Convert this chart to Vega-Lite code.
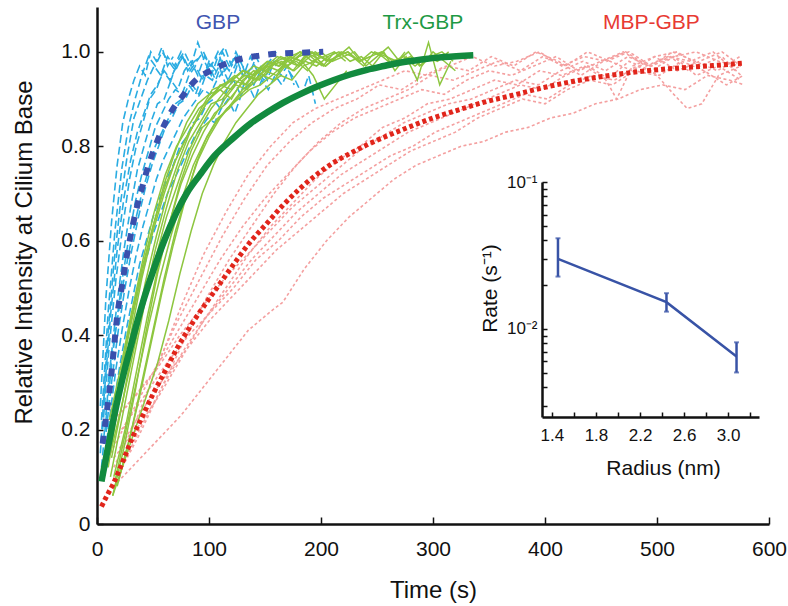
{
"$schema":"https://vega.github.io/schema/vega-lite/v6.json",
"width":672,"height":517,
"autosize":{"type":"none"},
"padding":{"left":97,"top":7,"right":19,"bottom":82},
"config":{"view":{"stroke":null},"font":"Liberation Sans",
 "axis":{"grid":false,"domainColor":"#111","domainWidth":2.5,"tickColor":"#111","tickWidth":1.5,"labelColor":"#111","titleColor":"#111","labelFont":"Liberation Sans","titleFont":"Liberation Sans","titleFontWeight":"normal","labelOverlap":false,"labelFlush":false}},
"datasets":{
"gbp":[
{"id":"g1","t":4,"v":0.22},{"id":"g1","t":10,"v":0.45},{"id":"g1","t":16,"v":0.62},{"id":"g1","t":22,"v":0.75},{"id":"g1","t":28,"v":0.84},{"id":"g1","t":34,"v":0.9},{"id":"g1","t":40,"v":0.95},{"id":"g1","t":46,"v":0.99},{"id":"g1","t":52,"v":0.97},{"id":"g1","t":58,"v":1.0},{"id":"g1","t":64,"v":0.98},{"id":"g1","t":70,"v":0.96},{"id":"g1","t":76,"v":0.99},{"id":"g1","t":82,"v":0.97},
{"id":"g2","t":3,"v":0.15},{"id":"g2","t":9,"v":0.38},{"id":"g2","t":15,"v":0.55},{"id":"g2","t":21,"v":0.68},{"id":"g2","t":27,"v":0.78},{"id":"g2","t":33,"v":0.86},{"id":"g2","t":39,"v":0.9},{"id":"g2","t":45,"v":0.94},{"id":"g2","t":51,"v":0.97},{"id":"g2","t":57,"v":0.95},{"id":"g2","t":63,"v":0.99},{"id":"g2","t":69,"v":0.97},{"id":"g2","t":75,"v":1.0},{"id":"g2","t":81,"v":0.96},{"id":"g2","t":87,"v":0.98},{"id":"g2","t":93,"v":0.99},
{"id":"g3","t":5,"v":0.2},{"id":"g3","t":11,"v":0.38},{"id":"g3","t":17,"v":0.52},{"id":"g3","t":23,"v":0.63},{"id":"g3","t":29,"v":0.73},{"id":"g3","t":35,"v":0.8},{"id":"g3","t":41,"v":0.85},{"id":"g3","t":47,"v":0.9},{"id":"g3","t":53,"v":0.92},{"id":"g3","t":59,"v":0.96},{"id":"g3","t":65,"v":0.94},{"id":"g3","t":71,"v":0.97},{"id":"g3","t":77,"v":0.99},{"id":"g3","t":83,"v":0.96},{"id":"g3","t":89,"v":0.98},{"id":"g3","t":95,"v":1.0},{"id":"g3","t":101,"v":0.97},{"id":"g3","t":107,"v":0.99},
{"id":"g4","t":6,"v":0.18},{"id":"g4","t":12,"v":0.34},{"id":"g4","t":18,"v":0.47},{"id":"g4","t":24,"v":0.58},{"id":"g4","t":30,"v":0.67},{"id":"g4","t":36,"v":0.75},{"id":"g4","t":42,"v":0.8},{"id":"g4","t":48,"v":0.85},{"id":"g4","t":54,"v":0.89},{"id":"g4","t":60,"v":0.9},{"id":"g4","t":66,"v":0.94},{"id":"g4","t":72,"v":0.92},{"id":"g4","t":78,"v":0.96},{"id":"g4","t":84,"v":0.98},{"id":"g4","t":90,"v":0.95},{"id":"g4","t":96,"v":0.99},{"id":"g4","t":102,"v":0.97},{"id":"g4","t":108,"v":1.0},{"id":"g4","t":114,"v":0.96},{"id":"g4","t":120,"v":0.98},
{"id":"g5","t":4,"v":0.12},{"id":"g5","t":10,"v":0.27},{"id":"g5","t":16,"v":0.4},{"id":"g5","t":22,"v":0.51},{"id":"g5","t":28,"v":0.6},{"id":"g5","t":34,"v":0.68},{"id":"g5","t":40,"v":0.74},{"id":"g5","t":46,"v":0.79},{"id":"g5","t":52,"v":0.84},{"id":"g5","t":58,"v":0.87},{"id":"g5","t":64,"v":0.9},{"id":"g5","t":70,"v":0.92},{"id":"g5","t":76,"v":0.91},{"id":"g5","t":82,"v":0.95},{"id":"g5","t":88,"v":0.97},{"id":"g5","t":94,"v":0.94},{"id":"g5","t":100,"v":0.98},{"id":"g5","t":106,"v":0.96},{"id":"g5","t":112,"v":1.0},{"id":"g5","t":118,"v":0.97},{"id":"g5","t":124,"v":0.99},{"id":"g5","t":130,"v":0.95},
{"id":"g6","t":7,"v":0.17},{"id":"g6","t":13,"v":0.3},{"id":"g6","t":19,"v":0.41},{"id":"g6","t":25,"v":0.5},{"id":"g6","t":31,"v":0.58},{"id":"g6","t":37,"v":0.65},{"id":"g6","t":43,"v":0.71},{"id":"g6","t":49,"v":0.76},{"id":"g6","t":55,"v":0.8},{"id":"g6","t":61,"v":0.84},{"id":"g6","t":67,"v":0.86},{"id":"g6","t":73,"v":0.89},{"id":"g6","t":79,"v":0.9},{"id":"g6","t":85,"v":0.93},{"id":"g6","t":91,"v":0.91},{"id":"g6","t":97,"v":0.95},{"id":"g6","t":103,"v":0.94},{"id":"g6","t":109,"v":0.97},{"id":"g6","t":115,"v":0.93},{"id":"g6","t":121,"v":0.96},{"id":"g6","t":127,"v":0.99},{"id":"g6","t":133,"v":0.95},{"id":"g6","t":139,"v":0.97},
{"id":"g7","t":5,"v":0.1},{"id":"g7","t":11,"v":0.22},{"id":"g7","t":17,"v":0.33},{"id":"g7","t":23,"v":0.42},{"id":"g7","t":29,"v":0.5},{"id":"g7","t":35,"v":0.57},{"id":"g7","t":41,"v":0.63},{"id":"g7","t":47,"v":0.68},{"id":"g7","t":53,"v":0.73},{"id":"g7","t":59,"v":0.77},{"id":"g7","t":65,"v":0.8},{"id":"g7","t":71,"v":0.83},{"id":"g7","t":77,"v":0.86},{"id":"g7","t":83,"v":0.88},{"id":"g7","t":89,"v":0.9},{"id":"g7","t":95,"v":0.92},{"id":"g7","t":101,"v":0.91},{"id":"g7","t":107,"v":0.94},{"id":"g7","t":113,"v":0.96},{"id":"g7","t":119,"v":0.93},{"id":"g7","t":125,"v":0.97},{"id":"g7","t":131,"v":0.95},{"id":"g7","t":137,"v":0.99},{"id":"g7","t":143,"v":0.96},{"id":"g7","t":149,"v":0.94},{"id":"g7","t":155,"v":0.97},
{"id":"g8","t":8,"v":0.14},{"id":"g8","t":14,"v":0.24},{"id":"g8","t":20,"v":0.33},{"id":"g8","t":26,"v":0.41},{"id":"g8","t":32,"v":0.48},{"id":"g8","t":38,"v":0.55},{"id":"g8","t":44,"v":0.6},{"id":"g8","t":50,"v":0.65},{"id":"g8","t":56,"v":0.69},{"id":"g8","t":62,"v":0.73},{"id":"g8","t":68,"v":0.76},{"id":"g8","t":74,"v":0.8},{"id":"g8","t":80,"v":0.82},{"id":"g8","t":86,"v":0.85},{"id":"g8","t":92,"v":0.86},{"id":"g8","t":98,"v":0.89},{"id":"g8","t":104,"v":0.9},{"id":"g8","t":110,"v":0.88},{"id":"g8","t":116,"v":0.92},{"id":"g8","t":122,"v":0.94},{"id":"g8","t":128,"v":0.91},{"id":"g8","t":134,"v":0.95},{"id":"g8","t":140,"v":0.93},{"id":"g8","t":146,"v":0.96},{"id":"g8","t":152,"v":0.94},{"id":"g8","t":158,"v":0.98},{"id":"g8","t":164,"v":0.95},{"id":"g8","t":170,"v":0.97},{"id":"g8","t":176,"v":0.93},
{"id":"g9","t":9,"v":0.12},{"id":"g9","t":15,"v":0.22},{"id":"g9","t":21,"v":0.31},{"id":"g9","t":27,"v":0.39},{"id":"g9","t":33,"v":0.46},{"id":"g9","t":39,"v":0.52},{"id":"g9","t":45,"v":0.57},{"id":"g9","t":51,"v":0.62},{"id":"g9","t":57,"v":0.66},{"id":"g9","t":63,"v":0.7},{"id":"g9","t":69,"v":0.73},{"id":"g9","t":75,"v":0.76},{"id":"g9","t":81,"v":0.79},{"id":"g9","t":87,"v":0.82},{"id":"g9","t":93,"v":0.84},{"id":"g9","t":99,"v":0.86},{"id":"g9","t":105,"v":0.85},{"id":"g9","t":111,"v":0.88},{"id":"g9","t":117,"v":0.9},{"id":"g9","t":123,"v":0.87},{"id":"g9","t":129,"v":0.91},{"id":"g9","t":135,"v":0.93},{"id":"g9","t":141,"v":0.9},{"id":"g9","t":147,"v":0.94},{"id":"g9","t":153,"v":0.92},{"id":"g9","t":159,"v":0.95},{"id":"g9","t":165,"v":0.93},{"id":"g9","t":171,"v":0.96},{"id":"g9","t":177,"v":0.94},{"id":"g9","t":183,"v":0.91},{"id":"g9","t":189,"v":0.95},{"id":"g9","t":195,"v":0.89},
{"id":"g10","t":3,"v":0.25},{"id":"g10","t":8,"v":0.48},{"id":"g10","t":13,"v":0.64},{"id":"g10","t":18,"v":0.76},{"id":"g10","t":23,"v":0.85},{"id":"g10","t":28,"v":0.9},{"id":"g10","t":33,"v":0.94},{"id":"g10","t":38,"v":0.97},{"id":"g10","t":43,"v":0.95},{"id":"g10","t":48,"v":1.0},{"id":"g10","t":53,"v":0.98},{"id":"g10","t":58,"v":1.01},{"id":"g10","t":63,"v":0.97},{"id":"g10","t":68,"v":0.99},
{"id":"g11","t":6,"v":0.26},{"id":"g11","t":12,"v":0.44},{"id":"g11","t":18,"v":0.58},{"id":"g11","t":24,"v":0.69},{"id":"g11","t":30,"v":0.77},{"id":"g11","t":36,"v":0.83},{"id":"g11","t":42,"v":0.87},{"id":"g11","t":48,"v":0.91},{"id":"g11","t":54,"v":0.93},{"id":"g11","t":60,"v":0.96},{"id":"g11","t":66,"v":0.94},{"id":"g11","t":72,"v":0.98},{"id":"g11","t":78,"v":1.0},{"id":"g11","t":84,"v":0.97},{"id":"g11","t":90,"v":1.02},{"id":"g11","t":96,"v":0.98},{"id":"g11","t":102,"v":0.95},{"id":"g11","t":108,"v":0.99},{"id":"g11","t":114,"v":1.01},{"id":"g11","t":120,"v":0.97},{"id":"g11","t":126,"v":0.99},
{"id":"g12","t":10,"v":0.3},{"id":"g12","t":16,"v":0.4},{"id":"g12","t":22,"v":0.49},{"id":"g12","t":28,"v":0.57},{"id":"g12","t":34,"v":0.64},{"id":"g12","t":40,"v":0.7},{"id":"g12","t":46,"v":0.75},{"id":"g12","t":52,"v":0.8},{"id":"g12","t":58,"v":0.83},{"id":"g12","t":64,"v":0.86},{"id":"g12","t":70,"v":0.89},{"id":"g12","t":76,"v":0.9},{"id":"g12","t":82,"v":0.93},{"id":"g12","t":88,"v":0.91},{"id":"g12","t":94,"v":0.95},{"id":"g12","t":100,"v":0.97},{"id":"g12","t":106,"v":0.94},{"id":"g12","t":112,"v":0.98},{"id":"g12","t":118,"v":0.96},{"id":"g12","t":124,"v":1.0},{"id":"g12","t":130,"v":0.97},{"id":"g12","t":136,"v":0.95},{"id":"g12","t":142,"v":0.99},{"id":"g12","t":148,"v":0.96},{"id":"g12","t":154,"v":0.98},{"id":"g12","t":160,"v":1.0}
],
"trx":[
{"id":"r1","t":10,"v":0.15},{"id":"r1","t":20,"v":0.3},{"id":"r1","t":30,"v":0.43},{"id":"r1","t":40,"v":0.54},{"id":"r1","t":50,"v":0.63},{"id":"r1","t":60,"v":0.71},{"id":"r1","t":70,"v":0.77},{"id":"r1","t":80,"v":0.82},{"id":"r1","t":90,"v":0.86},{"id":"r1","t":100,"v":0.9},{"id":"r1","t":110,"v":0.92},{"id":"r1","t":120,"v":0.94},{"id":"r1","t":130,"v":0.96},{"id":"r1","t":140,"v":0.95},{"id":"r1","t":150,"v":0.97},{"id":"r1","t":160,"v":0.98},{"id":"r1","t":170,"v":0.97},{"id":"r1","t":180,"v":0.99},{"id":"r1","t":190,"v":1.0},{"id":"r1","t":200,"v":0.99},
{"id":"r2","t":10,"v":0.12},{"id":"r2","t":20,"v":0.27},{"id":"r2","t":30,"v":0.4},{"id":"r2","t":40,"v":0.52},{"id":"r2","t":50,"v":0.62},{"id":"r2","t":60,"v":0.7},{"id":"r2","t":70,"v":0.77},{"id":"r2","t":80,"v":0.82},{"id":"r2","t":90,"v":0.86},{"id":"r2","t":100,"v":0.9},{"id":"r2","t":110,"v":0.93},{"id":"r2","t":120,"v":0.92},{"id":"r2","t":130,"v":0.95},{"id":"r2","t":140,"v":0.97},{"id":"r2","t":150,"v":0.96},{"id":"r2","t":160,"v":0.98},{"id":"r2","t":170,"v":0.99},{"id":"r2","t":180,"v":0.97},{"id":"r2","t":190,"v":1.0},{"id":"r2","t":200,"v":0.99},{"id":"r2","t":210,"v":0.98},
{"id":"r3","t":12,"v":0.1},{"id":"r3","t":22,"v":0.22},{"id":"r3","t":32,"v":0.34},{"id":"r3","t":42,"v":0.46},{"id":"r3","t":52,"v":0.56},{"id":"r3","t":62,"v":0.65},{"id":"r3","t":72,"v":0.72},{"id":"r3","t":82,"v":0.79},{"id":"r3","t":92,"v":0.84},{"id":"r3","t":102,"v":0.88},{"id":"r3","t":112,"v":0.91},{"id":"r3","t":122,"v":0.94},{"id":"r3","t":132,"v":0.93},{"id":"r3","t":142,"v":0.96},{"id":"r3","t":152,"v":0.98},{"id":"r3","t":162,"v":0.97},{"id":"r3","t":172,"v":0.99},{"id":"r3","t":182,"v":1.0},{"id":"r3","t":192,"v":0.98},{"id":"r3","t":202,"v":0.99},{"id":"r3","t":212,"v":1.0},{"id":"r3","t":222,"v":0.98},
{"id":"r4","t":14,"v":0.06},{"id":"r4","t":24,"v":0.16},{"id":"r4","t":34,"v":0.28},{"id":"r4","t":44,"v":0.41},{"id":"r4","t":54,"v":0.53},{"id":"r4","t":64,"v":0.63},{"id":"r4","t":74,"v":0.72},{"id":"r4","t":84,"v":0.79},{"id":"r4","t":94,"v":0.84},{"id":"r4","t":104,"v":0.86},{"id":"r4","t":114,"v":0.9},{"id":"r4","t":124,"v":0.93},{"id":"r4","t":134,"v":0.92},{"id":"r4","t":144,"v":0.96},{"id":"r4","t":154,"v":0.97},{"id":"r4","t":164,"v":0.99},{"id":"r4","t":174,"v":0.98},{"id":"r4","t":184,"v":1.0},{"id":"r4","t":194,"v":0.99},{"id":"r4","t":204,"v":0.97},{"id":"r4","t":214,"v":0.99},{"id":"r4","t":224,"v":1.0},{"id":"r4","t":234,"v":0.98},{"id":"r4","t":244,"v":0.99},
{"id":"r5","t":15,"v":0.1},{"id":"r5","t":25,"v":0.2},{"id":"r5","t":35,"v":0.32},{"id":"r5","t":45,"v":0.44},{"id":"r5","t":55,"v":0.55},{"id":"r5","t":65,"v":0.64},{"id":"r5","t":75,"v":0.72},{"id":"r5","t":85,"v":0.78},{"id":"r5","t":95,"v":0.83},{"id":"r5","t":105,"v":0.87},{"id":"r5","t":115,"v":0.89},{"id":"r5","t":125,"v":0.92},{"id":"r5","t":135,"v":0.95},{"id":"r5","t":145,"v":0.94},{"id":"r5","t":155,"v":0.97},{"id":"r5","t":165,"v":0.98},{"id":"r5","t":175,"v":0.96},{"id":"r5","t":185,"v":0.99},{"id":"r5","t":195,"v":1.0},{"id":"r5","t":205,"v":0.98},{"id":"r5","t":215,"v":0.99},{"id":"r5","t":225,"v":1.01},{"id":"r5","t":235,"v":0.98},{"id":"r5","t":245,"v":1.0},{"id":"r5","t":255,"v":0.99},{"id":"r5","t":265,"v":0.97},{"id":"r5","t":275,"v":1.0},
{"id":"r6","t":12,"v":0.15},{"id":"r6","t":22,"v":0.25},{"id":"r6","t":32,"v":0.36},{"id":"r6","t":42,"v":0.47},{"id":"r6","t":52,"v":0.58},{"id":"r6","t":62,"v":0.67},{"id":"r6","t":72,"v":0.75},{"id":"r6","t":82,"v":0.81},{"id":"r6","t":92,"v":0.85},{"id":"r6","t":102,"v":0.89},{"id":"r6","t":112,"v":0.9},{"id":"r6","t":122,"v":0.93},{"id":"r6","t":132,"v":0.95},{"id":"r6","t":142,"v":0.94},{"id":"r6","t":152,"v":0.97},{"id":"r6","t":162,"v":0.96},{"id":"r6","t":172,"v":0.99},{"id":"r6","t":182,"v":0.98},{"id":"r6","t":192,"v":1.0},{"id":"r6","t":202,"v":0.97},{"id":"r6","t":212,"v":1.0},
{"id":"r7","t":18,"v":0.08},{"id":"r7","t":28,"v":0.17},{"id":"r7","t":38,"v":0.27},{"id":"r7","t":48,"v":0.38},{"id":"r7","t":58,"v":0.49},{"id":"r7","t":68,"v":0.59},{"id":"r7","t":78,"v":0.68},{"id":"r7","t":88,"v":0.76},{"id":"r7","t":98,"v":0.82},{"id":"r7","t":108,"v":0.86},{"id":"r7","t":118,"v":0.88},{"id":"r7","t":128,"v":0.91},{"id":"r7","t":138,"v":0.93},{"id":"r7","t":148,"v":0.95},{"id":"r7","t":158,"v":0.94},{"id":"r7","t":168,"v":0.97},{"id":"r7","t":178,"v":0.98},{"id":"r7","t":188,"v":0.96},{"id":"r7","t":198,"v":0.99},{"id":"r7","t":208,"v":0.98},{"id":"r7","t":218,"v":1.0},{"id":"r7","t":228,"v":0.99},{"id":"r7","t":238,"v":0.97},{"id":"r7","t":248,"v":1.0},{"id":"r7","t":258,"v":0.99},{"id":"r7","t":268,"v":0.98},{"id":"r7","t":278,"v":1.0},{"id":"r7","t":288,"v":0.97},{"id":"r7","t":298,"v":0.99},{"id":"r7","t":308,"v":1.0},{"id":"r7","t":318,"v":0.98},
{"id":"r8","t":16,"v":0.09},{"id":"r8","t":26,"v":0.2},{"id":"r8","t":36,"v":0.31},{"id":"r8","t":46,"v":0.42},{"id":"r8","t":56,"v":0.52},{"id":"r8","t":66,"v":0.61},{"id":"r8","t":76,"v":0.69},{"id":"r8","t":86,"v":0.76},{"id":"r8","t":96,"v":0.81},{"id":"r8","t":106,"v":0.85},{"id":"r8","t":116,"v":0.88},{"id":"r8","t":126,"v":0.9},{"id":"r8","t":136,"v":0.92},{"id":"r8","t":146,"v":0.93},{"id":"r8","t":156,"v":0.95},{"id":"r8","t":166,"v":0.97},{"id":"r8","t":176,"v":0.96},{"id":"r8","t":186,"v":0.98},{"id":"r8","t":196,"v":0.97},{"id":"r8","t":206,"v":0.99},{"id":"r8","t":216,"v":1.0},{"id":"r8","t":226,"v":0.98},{"id":"r8","t":236,"v":0.99},{"id":"r8","t":246,"v":0.97},{"id":"r8","t":256,"v":1.0},{"id":"r8","t":266,"v":0.96},{"id":"r8","t":276,"v":0.99},{"id":"r8","t":286,"v":0.94},{"id":"r8","t":296,"v":1.02},{"id":"r8","t":306,"v":0.93},{"id":"r8","t":316,"v":0.98},
{"id":"r9","t":10,"v":0.18},{"id":"r9","t":20,"v":0.3},{"id":"r9","t":30,"v":0.42},{"id":"r9","t":40,"v":0.53},{"id":"r9","t":50,"v":0.63},{"id":"r9","t":60,"v":0.72},{"id":"r9","t":70,"v":0.79},{"id":"r9","t":80,"v":0.85},{"id":"r9","t":90,"v":0.89},{"id":"r9","t":100,"v":0.91},{"id":"r9","t":110,"v":0.92},{"id":"r9","t":120,"v":0.9},{"id":"r9","t":130,"v":0.94},{"id":"r9","t":140,"v":0.96},{"id":"r9","t":150,"v":0.95},{"id":"r9","t":160,"v":0.98},{"id":"r9","t":170,"v":0.97},{"id":"r9","t":180,"v":0.99},{"id":"r9","t":190,"v":1.0},
{"id":"r10","t":13,"v":0.14},{"id":"r10","t":23,"v":0.26},{"id":"r10","t":33,"v":0.39},{"id":"r10","t":43,"v":0.51},{"id":"r10","t":53,"v":0.61},{"id":"r10","t":63,"v":0.7},{"id":"r10","t":73,"v":0.77},{"id":"r10","t":83,"v":0.83},{"id":"r10","t":93,"v":0.88},{"id":"r10","t":103,"v":0.92},{"id":"r10","t":113,"v":0.93},{"id":"r10","t":123,"v":0.95},{"id":"r10","t":133,"v":0.93},{"id":"r10","t":143,"v":0.96},{"id":"r10","t":153,"v":0.98},{"id":"r10","t":163,"v":0.97},{"id":"r10","t":173,"v":0.99},{"id":"r10","t":183,"v":0.98},{"id":"r10","t":193,"v":0.95},{"id":"r10","t":203,"v":0.9},{"id":"r10","t":213,"v":0.93},{"id":"r10","t":223,"v":0.96},
{"id":"r11","t":20,"v":0.1},{"id":"r11","t":30,"v":0.19},{"id":"r11","t":40,"v":0.3},{"id":"r11","t":50,"v":0.41},{"id":"r11","t":60,"v":0.52},{"id":"r11","t":70,"v":0.62},{"id":"r11","t":80,"v":0.7},{"id":"r11","t":90,"v":0.77},{"id":"r11","t":100,"v":0.82},{"id":"r11","t":110,"v":0.86},{"id":"r11","t":120,"v":0.89},{"id":"r11","t":130,"v":0.92},{"id":"r11","t":140,"v":0.94},{"id":"r11","t":150,"v":0.96},{"id":"r11","t":160,"v":0.95},{"id":"r11","t":170,"v":0.98},{"id":"r11","t":180,"v":0.97},{"id":"r11","t":190,"v":0.99},{"id":"r11","t":200,"v":1.0},{"id":"r11","t":210,"v":0.98},{"id":"r11","t":220,"v":0.99},{"id":"r11","t":230,"v":1.0},{"id":"r11","t":240,"v":0.97},{"id":"r11","t":250,"v":0.99},{"id":"r11","t":260,"v":1.01},{"id":"r11","t":270,"v":0.98},{"id":"r11","t":280,"v":0.99},{"id":"r11","t":290,"v":0.97},{"id":"r11","t":300,"v":1.0},{"id":"r11","t":310,"v":0.98},{"id":"r11","t":320,"v":0.96},
{"id":"r12","t":14,"v":0.06},{"id":"r12","t":24,"v":0.13},{"id":"r12","t":34,"v":0.2},{"id":"r12","t":44,"v":0.27},{"id":"r12","t":54,"v":0.34},{"id":"r12","t":64,"v":0.43},{"id":"r12","t":74,"v":0.53},{"id":"r12","t":84,"v":0.62},{"id":"r12","t":94,"v":0.7},{"id":"r12","t":104,"v":0.76},{"id":"r12","t":114,"v":0.81},{"id":"r12","t":124,"v":0.85},{"id":"r12","t":134,"v":0.88},{"id":"r12","t":144,"v":0.91},{"id":"r12","t":154,"v":0.93},{"id":"r12","t":164,"v":0.95},{"id":"r12","t":174,"v":0.94},{"id":"r12","t":184,"v":0.97},{"id":"r12","t":194,"v":0.98},{"id":"r12","t":204,"v":0.97},{"id":"r12","t":214,"v":0.99},{"id":"r12","t":224,"v":1.0},{"id":"r12","t":234,"v":0.98},{"id":"r12","t":244,"v":0.99},{"id":"r12","t":254,"v":1.0},{"id":"r12","t":264,"v":0.98},{"id":"r12","t":274,"v":0.99},{"id":"r12","t":284,"v":0.97},{"id":"r12","t":294,"v":0.99},{"id":"r12","t":304,"v":0.98},{"id":"r12","t":314,"v":1.0},
{"id":"r13","t":11,"v":0.22},{"id":"r13","t":21,"v":0.33},{"id":"r13","t":31,"v":0.45},{"id":"r13","t":41,"v":0.56},{"id":"r13","t":51,"v":0.66},{"id":"r13","t":61,"v":0.74},{"id":"r13","t":71,"v":0.8},{"id":"r13","t":81,"v":0.84},{"id":"r13","t":91,"v":0.88},{"id":"r13","t":101,"v":0.9},{"id":"r13","t":111,"v":0.93},{"id":"r13","t":121,"v":0.94},{"id":"r13","t":131,"v":0.96},{"id":"r13","t":141,"v":0.95},{"id":"r13","t":151,"v":0.97},{"id":"r13","t":161,"v":0.99},{"id":"r13","t":171,"v":0.98},{"id":"r13","t":181,"v":1.0},{"id":"r13","t":191,"v":0.99},{"id":"r13","t":201,"v":0.97}
],
"mbp":[
{"id":"m1","t":15,"v":0.12},{"id":"m1","t":35,"v":0.22},{"id":"m1","t":55,"v":0.34},{"id":"m1","t":75,"v":0.46},{"id":"m1","t":95,"v":0.57},{"id":"m1","t":115,"v":0.66},{"id":"m1","t":135,"v":0.74},{"id":"m1","t":155,"v":0.8},{"id":"m1","t":175,"v":0.85},{"id":"m1","t":195,"v":0.88},{"id":"m1","t":215,"v":0.9},{"id":"m1","t":235,"v":0.92},{"id":"m1","t":255,"v":0.94},{"id":"m1","t":275,"v":0.96},{"id":"m1","t":295,"v":0.95},{"id":"m1","t":315,"v":0.97},{"id":"m1","t":335,"v":0.99},{"id":"m1","t":355,"v":0.97},{"id":"m1","t":375,"v":0.98},{"id":"m1","t":395,"v":1.0},{"id":"m1","t":415,"v":0.97},{"id":"m1","t":435,"v":0.99},{"id":"m1","t":455,"v":0.98},{"id":"m1","t":475,"v":1.0},{"id":"m1","t":495,"v":0.97},{"id":"m1","t":515,"v":0.99},{"id":"m1","t":535,"v":1.0},{"id":"m1","t":555,"v":0.98},{"id":"m1","t":575,"v":0.97},
{"id":"m2","t":18,"v":0.1},{"id":"m2","t":38,"v":0.19},{"id":"m2","t":58,"v":0.29},{"id":"m2","t":78,"v":0.39},{"id":"m2","t":98,"v":0.48},{"id":"m2","t":118,"v":0.56},{"id":"m2","t":138,"v":0.63},{"id":"m2","t":158,"v":0.7},{"id":"m2","t":178,"v":0.76},{"id":"m2","t":198,"v":0.81},{"id":"m2","t":218,"v":0.85},{"id":"m2","t":238,"v":0.88},{"id":"m2","t":258,"v":0.9},{"id":"m2","t":278,"v":0.92},{"id":"m2","t":298,"v":0.95},{"id":"m2","t":318,"v":0.94},{"id":"m2","t":338,"v":0.96},{"id":"m2","t":358,"v":0.98},{"id":"m2","t":378,"v":0.96},{"id":"m2","t":398,"v":0.99},{"id":"m2","t":418,"v":0.97},{"id":"m2","t":438,"v":1.0},{"id":"m2","t":458,"v":0.98},{"id":"m2","t":478,"v":0.96},{"id":"m2","t":498,"v":0.99},{"id":"m2","t":518,"v":1.0},{"id":"m2","t":538,"v":0.97},{"id":"m2","t":558,"v":0.99},{"id":"m2","t":575,"v":0.95},
{"id":"m3","t":15,"v":0.14},{"id":"m3","t":35,"v":0.2},{"id":"m3","t":55,"v":0.27},{"id":"m3","t":75,"v":0.35},{"id":"m3","t":95,"v":0.43},{"id":"m3","t":115,"v":0.5},{"id":"m3","t":135,"v":0.57},{"id":"m3","t":155,"v":0.63},{"id":"m3","t":175,"v":0.68},{"id":"m3","t":195,"v":0.73},{"id":"m3","t":215,"v":0.77},{"id":"m3","t":235,"v":0.8},{"id":"m3","t":255,"v":0.84},{"id":"m3","t":275,"v":0.86},{"id":"m3","t":295,"v":0.89},{"id":"m3","t":315,"v":0.9},{"id":"m3","t":335,"v":0.92},{"id":"m3","t":355,"v":0.94},{"id":"m3","t":375,"v":0.93},{"id":"m3","t":395,"v":0.96},{"id":"m3","t":415,"v":0.95},{"id":"m3","t":435,"v":0.97},{"id":"m3","t":455,"v":0.94},{"id":"m3","t":475,"v":0.98},{"id":"m3","t":495,"v":0.96},{"id":"m3","t":515,"v":0.99},{"id":"m3","t":535,"v":0.95},{"id":"m3","t":555,"v":0.97},{"id":"m3","t":575,"v":0.94},
{"id":"m4","t":18,"v":0.1},{"id":"m4","t":38,"v":0.2},{"id":"m4","t":58,"v":0.29},{"id":"m4","t":78,"v":0.37},{"id":"m4","t":98,"v":0.44},{"id":"m4","t":118,"v":0.5},{"id":"m4","t":138,"v":0.56},{"id":"m4","t":158,"v":0.61},{"id":"m4","t":178,"v":0.66},{"id":"m4","t":198,"v":0.7},{"id":"m4","t":218,"v":0.74},{"id":"m4","t":238,"v":0.77},{"id":"m4","t":258,"v":0.8},{"id":"m4","t":278,"v":0.83},{"id":"m4","t":298,"v":0.85},{"id":"m4","t":318,"v":0.87},{"id":"m4","t":338,"v":0.89},{"id":"m4","t":358,"v":0.91},{"id":"m4","t":378,"v":0.93},{"id":"m4","t":398,"v":0.92},{"id":"m4","t":418,"v":0.95},{"id":"m4","t":438,"v":0.97},{"id":"m4","t":452,"v":0.95},{"id":"m4","t":464,"v":0.9},{"id":"m4","t":478,"v":0.97},{"id":"m4","t":498,"v":0.99},{"id":"m4","t":518,"v":0.96},{"id":"m4","t":538,"v":0.98},{"id":"m4","t":558,"v":1.0},{"id":"m4","t":575,"v":0.97},
{"id":"m5","t":20,"v":0.16},{"id":"m5","t":40,"v":0.24},{"id":"m5","t":60,"v":0.31},{"id":"m5","t":80,"v":0.37},{"id":"m5","t":100,"v":0.43},{"id":"m5","t":120,"v":0.48},{"id":"m5","t":140,"v":0.53},{"id":"m5","t":160,"v":0.58},{"id":"m5","t":180,"v":0.62},{"id":"m5","t":200,"v":0.66},{"id":"m5","t":220,"v":0.7},{"id":"m5","t":240,"v":0.73},{"id":"m5","t":260,"v":0.76},{"id":"m5","t":280,"v":0.79},{"id":"m5","t":300,"v":0.81},{"id":"m5","t":320,"v":0.83},{"id":"m5","t":340,"v":0.86},{"id":"m5","t":360,"v":0.88},{"id":"m5","t":380,"v":0.9},{"id":"m5","t":400,"v":0.89},{"id":"m5","t":420,"v":0.92},{"id":"m5","t":440,"v":0.94},{"id":"m5","t":460,"v":0.93},{"id":"m5","t":480,"v":0.96},{"id":"m5","t":500,"v":0.95},{"id":"m5","t":515,"v":0.91},{"id":"m5","t":527,"v":0.88},{"id":"m5","t":540,"v":0.89},{"id":"m5","t":555,"v":0.95},{"id":"m5","t":575,"v":0.97},
{"id":"m6","t":15,"v":0.08},{"id":"m6","t":35,"v":0.13},{"id":"m6","t":55,"v":0.18},{"id":"m6","t":75,"v":0.23},{"id":"m6","t":95,"v":0.29},{"id":"m6","t":115,"v":0.35},{"id":"m6","t":135,"v":0.41},{"id":"m6","t":155,"v":0.45},{"id":"m6","t":166,"v":0.47},{"id":"m6","t":185,"v":0.54},{"id":"m6","t":205,"v":0.6},{"id":"m6","t":225,"v":0.65},{"id":"m6","t":245,"v":0.69},{"id":"m6","t":265,"v":0.73},{"id":"m6","t":285,"v":0.76},{"id":"m6","t":305,"v":0.78},{"id":"m6","t":325,"v":0.8},{"id":"m6","t":345,"v":0.81},{"id":"m6","t":365,"v":0.83},{"id":"m6","t":385,"v":0.84},{"id":"m6","t":405,"v":0.86},{"id":"m6","t":425,"v":0.87},{"id":"m6","t":445,"v":0.89},{"id":"m6","t":465,"v":0.9},{"id":"m6","t":485,"v":0.92},{"id":"m6","t":505,"v":0.93},{"id":"m6","t":525,"v":0.92},{"id":"m6","t":545,"v":0.95},{"id":"m6","t":565,"v":0.94},{"id":"m6","t":578,"v":0.93},
{"id":"m7","t":10,"v":0.2},{"id":"m7","t":30,"v":0.26},{"id":"m7","t":50,"v":0.32},{"id":"m7","t":70,"v":0.4},{"id":"m7","t":90,"v":0.48},{"id":"m7","t":110,"v":0.56},{"id":"m7","t":130,"v":0.63},{"id":"m7","t":150,"v":0.69},{"id":"m7","t":170,"v":0.74},{"id":"m7","t":190,"v":0.79},{"id":"m7","t":210,"v":0.83},{"id":"m7","t":230,"v":0.86},{"id":"m7","t":250,"v":0.88},{"id":"m7","t":270,"v":0.9},{"id":"m7","t":290,"v":0.92},{"id":"m7","t":310,"v":0.91},{"id":"m7","t":330,"v":0.94},{"id":"m7","t":350,"v":0.96},{"id":"m7","t":370,"v":0.95},{"id":"m7","t":390,"v":0.97},{"id":"m7","t":410,"v":0.99},{"id":"m7","t":430,"v":0.96},{"id":"m7","t":450,"v":0.98},{"id":"m7","t":470,"v":1.0},{"id":"m7","t":490,"v":0.97},{"id":"m7","t":510,"v":0.99},{"id":"m7","t":530,"v":0.98},{"id":"m7","t":550,"v":1.0},{"id":"m7","t":570,"v":0.96},
{"id":"m8","t":22,"v":0.2},{"id":"m8","t":42,"v":0.27},{"id":"m8","t":62,"v":0.34},{"id":"m8","t":82,"v":0.4},{"id":"m8","t":102,"v":0.45},{"id":"m8","t":122,"v":0.5},{"id":"m8","t":142,"v":0.56},{"id":"m8","t":162,"v":0.6},{"id":"m8","t":182,"v":0.65},{"id":"m8","t":202,"v":0.69},{"id":"m8","t":222,"v":0.72},{"id":"m8","t":242,"v":0.75},{"id":"m8","t":262,"v":0.78},{"id":"m8","t":282,"v":0.8},{"id":"m8","t":302,"v":0.83},{"id":"m8","t":322,"v":0.85},{"id":"m8","t":342,"v":0.87},{"id":"m8","t":362,"v":0.89},{"id":"m8","t":382,"v":0.91},{"id":"m8","t":402,"v":0.9},{"id":"m8","t":422,"v":0.93},{"id":"m8","t":442,"v":0.95},{"id":"m8","t":462,"v":0.94},{"id":"m8","t":482,"v":0.97},{"id":"m8","t":502,"v":0.95},{"id":"m8","t":522,"v":0.98},{"id":"m8","t":542,"v":0.96},{"id":"m8","t":562,"v":0.93},{"id":"m8","t":577,"v":0.95},
{"id":"m9","t":12,"v":0.15},{"id":"m9","t":32,"v":0.24},{"id":"m9","t":52,"v":0.33},{"id":"m9","t":72,"v":0.43},{"id":"m9","t":92,"v":0.52},{"id":"m9","t":112,"v":0.61},{"id":"m9","t":132,"v":0.69},{"id":"m9","t":152,"v":0.76},{"id":"m9","t":172,"v":0.81},{"id":"m9","t":192,"v":0.85},{"id":"m9","t":212,"v":0.88},{"id":"m9","t":232,"v":0.9},{"id":"m9","t":252,"v":0.93},{"id":"m9","t":272,"v":0.92},{"id":"m9","t":292,"v":0.95},{"id":"m9","t":312,"v":0.97},{"id":"m9","t":332,"v":0.96},{"id":"m9","t":352,"v":0.99},{"id":"m9","t":372,"v":0.97},{"id":"m9","t":392,"v":1.0},{"id":"m9","t":412,"v":0.98},{"id":"m9","t":432,"v":0.95},{"id":"m9","t":452,"v":0.98},{"id":"m9","t":472,"v":1.0},{"id":"m9","t":492,"v":0.97},{"id":"m9","t":512,"v":0.99},{"id":"m9","t":528,"v":0.96},
{"id":"m10","t":14,"v":0.22},{"id":"m10","t":34,"v":0.27},{"id":"m10","t":54,"v":0.33},{"id":"m10","t":74,"v":0.4},{"id":"m10","t":94,"v":0.46},{"id":"m10","t":114,"v":0.52},{"id":"m10","t":134,"v":0.57},{"id":"m10","t":154,"v":0.62},{"id":"m10","t":174,"v":0.67},{"id":"m10","t":194,"v":0.71},{"id":"m10","t":214,"v":0.75},{"id":"m10","t":234,"v":0.79},{"id":"m10","t":254,"v":0.82},{"id":"m10","t":274,"v":0.85},{"id":"m10","t":294,"v":0.87},{"id":"m10","t":314,"v":0.89},{"id":"m10","t":334,"v":0.9},{"id":"m10","t":354,"v":0.92},{"id":"m10","t":374,"v":0.94},{"id":"m10","t":394,"v":0.93},{"id":"m10","t":414,"v":0.96},{"id":"m10","t":434,"v":0.98},{"id":"m10","t":454,"v":0.96},{"id":"m10","t":474,"v":0.99},{"id":"m10","t":494,"v":0.97},{"id":"m10","t":514,"v":1.0},{"id":"m10","t":534,"v":0.98},{"id":"m10","t":554,"v":0.96},{"id":"m10","t":574,"v":0.99}
],
"fitg":[{"t":5,"v":0.17},{"t":8,"v":0.224},{"t":10,"v":0.26},{"t":12.5,"v":0.31},{"t":15,"v":0.37},{"t":18,"v":0.44},{"t":22,"v":0.5},{"t":26,"v":0.56},{"t":30,"v":0.61},{"t":35,"v":0.665},{"t":40,"v":0.71},{"t":46,"v":0.76},{"t":52,"v":0.8},{"t":60,"v":0.845},{"t":68,"v":0.88},{"t":76,"v":0.905},{"t":84,"v":0.93},{"t":92,"v":0.948},{"t":100,"v":0.958},{"t":110,"v":0.97},{"t":120,"v":0.979},{"t":130,"v":0.986},{"t":145,"v":0.992},{"t":160,"v":0.996},{"t":180,"v":0.998},{"t":202,"v":1.0}],
"fitt":[{"t":4,"v":0.09},{"t":10,"v":0.165},{"t":15,"v":0.225},{"t":20,"v":0.28},{"t":25,"v":0.33},{"t":30,"v":0.375},{"t":35,"v":0.42},{"t":41,"v":0.47},{"t":50,"v":0.535},{"t":60,"v":0.6},{"t":71,"v":0.66},{"t":80,"v":0.7},{"t":92,"v":0.74},{"t":105,"v":0.78},{"t":122,"v":0.818},{"t":137,"v":0.848},{"t":152,"v":0.872},{"t":166,"v":0.892},{"t":181,"v":0.91},{"t":196,"v":0.926},{"t":211,"v":0.94},{"t":226,"v":0.952},{"t":241,"v":0.962},{"t":256,"v":0.97},{"t":270,"v":0.977},{"t":290,"v":0.984},{"t":310,"v":0.989},{"t":336,"v":0.993}],
"fitm":[{"t":4,"v":0.037},{"t":10,"v":0.065},{"t":14.5,"v":0.085},{"t":20,"v":0.115},{"t":26,"v":0.15},{"t":32,"v":0.185},{"t":40,"v":0.225},{"t":50,"v":0.275},{"t":60,"v":0.32},{"t":71,"v":0.37},{"t":85,"v":0.425},{"t":98,"v":0.47},{"t":110,"v":0.51},{"t":122,"v":0.55},{"t":136,"v":0.595},{"t":151,"v":0.635},{"t":166,"v":0.675},{"t":181,"v":0.71},{"t":196,"v":0.74},{"t":211,"v":0.765},{"t":226,"v":0.785},{"t":241,"v":0.803},{"t":260,"v":0.823},{"t":280,"v":0.842},{"t":300,"v":0.86},{"t":320,"v":0.875},{"t":345,"v":0.893},{"t":371,"v":0.908},{"t":400,"v":0.925},{"t":431,"v":0.94},{"t":460,"v":0.951},{"t":491,"v":0.96},{"t":520,"v":0.966},{"t":550,"v":0.971},{"t":577,"v":0.976}],
"labels":[{"t":108,"v":1.061,"label":"GBP"},{"t":291,"v":1.061,"label":"Trx-GBP"},{"t":495,"v":1.061,"label":"MBP-GBP"}],
"inset":[{"r":1.455,"rate":0.030,"lo":0.0227,"hi":0.0414},{"r":2.44,"rate":0.0152,"lo":0.0131,"hi":0.0175},{"r":3.076,"rate":0.00648,"lo":0.00505,"hi":0.0081}]
},
"layer":[
{"layer":[
 {"data":{"name":"mbp"},"mark":{"type":"line","color":"#f4a0a0","strokeWidth":1.6,"strokeDash":[3,2.5]},
  "encoding":{
   "x":{"field":"t","type":"quantitative","scale":{"domain":[0,600],"nice":false},
     "axis":{"values":[0,100,200,300,400,500,600],"format":"d","tickSize":-7,"labelPadding":21,"labelFontSize":21,"title":"Time (s)","titleFontSize":24,"titleX":336,"titleY":66,"titleBaseline":"middle","titleAnchor":"middle"}},
   "y":{"field":"v","type":"quantitative","scale":{"domain":[0,1.095],"nice":false},
     "axis":{"values":[0,0.2,0.4,0.6,0.8,1.0],"labelExpr":"datum.value==0?'0':format(datum.value,'.1f')","tickSize":-6,"labelPadding":13,"labelFontSize":21,"title":"Relative Intensity at Cilium Base","titleFontSize":24,"titleAngle":-90,"titleX":-73,"titleY":245,"titleBaseline":"middle","titleAlign":"center"}},
   "detail":{"field":"id"}}},
 {"data":{"name":"gbp"},"mark":{"type":"line","color":"#2aace2","strokeWidth":1.6,"strokeDash":[8,4]},
  "encoding":{"x":{"field":"t","type":"quantitative","scale":{"domain":[0,600],"nice":false}},"y":{"field":"v","type":"quantitative","scale":{"domain":[0,1.095],"nice":false}},"detail":{"field":"id"}}},
 {"data":{"name":"trx"},"mark":{"type":"line","color":"#8dc63f","strokeWidth":1.5},
  "encoding":{"x":{"field":"t","type":"quantitative","scale":{"domain":[0,600],"nice":false}},"y":{"field":"v","type":"quantitative","scale":{"domain":[0,1.095],"nice":false}},"detail":{"field":"id"}}},
 {"data":{"name":"fitm"},"mark":{"type":"line","color":"#e1251b","strokeWidth":5,"strokeDash":[4,3],"interpolate":"monotone"},
  "encoding":{"x":{"field":"t","type":"quantitative","scale":{"domain":[0,600],"nice":false}},"y":{"field":"v","type":"quantitative","scale":{"domain":[0,1.095],"nice":false}}}},
 {"data":{"name":"fitt"},"mark":{"type":"line","color":"#128a3e","strokeWidth":6.5,"interpolate":"monotone"},
  "encoding":{"x":{"field":"t","type":"quantitative","scale":{"domain":[0,600],"nice":false}},"y":{"field":"v","type":"quantitative","scale":{"domain":[0,1.095],"nice":false}}}},
 {"data":{"name":"fitg"},"mark":{"type":"line","color":"#3a50ad","strokeWidth":6,"strokeDash":[8,9],"interpolate":"monotone"},
  "encoding":{"x":{"field":"t","type":"quantitative","scale":{"domain":[0,600],"nice":false}},"y":{"field":"v","type":"quantitative","scale":{"domain":[0,1.095],"nice":false}}}},
 {"data":{"name":"labels"},"mark":{"type":"text","fontSize":21,"font":"Liberation Sans","align":"center","baseline":"middle"},
  "encoding":{"x":{"field":"t","type":"quantitative","scale":{"domain":[0,600],"nice":false}},"y":{"field":"v","type":"quantitative","scale":{"domain":[0,1.095],"nice":false}},"text":{"field":"label"},
   "color":{"field":"label","type":"nominal","scale":{"domain":["GBP","Trx-GBP","MBP-GBP"],"range":["#4155b0","#1e9a44","#e83a33"]},"legend":null}}}
]},
{"data":{"name":"inset"},"layer":[
 {"mark":{"type":"line","color":"#3853a6","strokeWidth":2.5},
  "encoding":{
   "x":{"field":"r","type":"quantitative","scale":{"domain":[1.31,3.28],"range":[445,662],"nice":false,"zero":false},
     "axis":{"orient":"bottom","offset":-107,"values":[1.4,1.6,1.8,2.0,2.2,2.4,2.6,2.8,3.0,3.2],"labelExpr":"(round(datum.value*10)%4==2)?format(datum.value,'.1f'):''","tickSize":-5,"labelPadding":15,"labelFontSize":17,"title":"Radius (nm)","titleFontSize":21,"titleX":566,"titleY":51,"titleBaseline":"middle","titleAlign":"center"}},
   "y":{"field":"rate","type":"quantitative","scale":{"type":"log","domain":[0.002512,0.1],"range":[410,175],"nice":false},
     "axis":{"orient":"left","offset":-445,"values":[0.003,0.004,0.005,0.006,0.007,0.008,0.009,0.01,0.02,0.03,0.04,0.05,0.06,0.07,0.08,0.09,0.1],"labelExpr":"datum.value==0.1?'10⁻¹':(datum.value==0.01?'10⁻²':'')","tickSize":-5,"labelPadding":10,"labelFontSize":17,"title":"Rate (s⁻¹)","titleFontSize":21,"titleAngle":-90,"titleX":-52,"titleY":281,"titleBaseline":"middle","titleAlign":"center"}}}},
 {"mark":{"type":"rule","color":"#3853a6","strokeWidth":2.5},
  "encoding":{"x":{"field":"r","type":"quantitative","scale":{"domain":[1.31,3.28],"range":[445,662],"nice":false,"zero":false}},"y":{"field":"lo","type":"quantitative","scale":{"type":"log","domain":[0.002512,0.1],"range":[410,175],"nice":false}},"y2":{"field":"hi"}}},
 {"mark":{"type":"tick","orient":"horizontal","color":"#3853a6","size":5,"thickness":2},
  "encoding":{"x":{"field":"r","type":"quantitative","scale":{"domain":[1.31,3.28],"range":[445,662],"nice":false,"zero":false}},"y":{"field":"lo","type":"quantitative","scale":{"type":"log","domain":[0.002512,0.1],"range":[410,175],"nice":false}}}},
 {"mark":{"type":"tick","orient":"horizontal","color":"#3853a6","size":5,"thickness":2},
  "encoding":{"x":{"field":"r","type":"quantitative","scale":{"domain":[1.31,3.28],"range":[445,662],"nice":false,"zero":false}},"y":{"field":"hi","type":"quantitative","scale":{"type":"log","domain":[0.002512,0.1],"range":[410,175],"nice":false}}}}
]}
],
"resolve":{"scale":{"x":"independent","y":"independent","color":"independent"}}
}
